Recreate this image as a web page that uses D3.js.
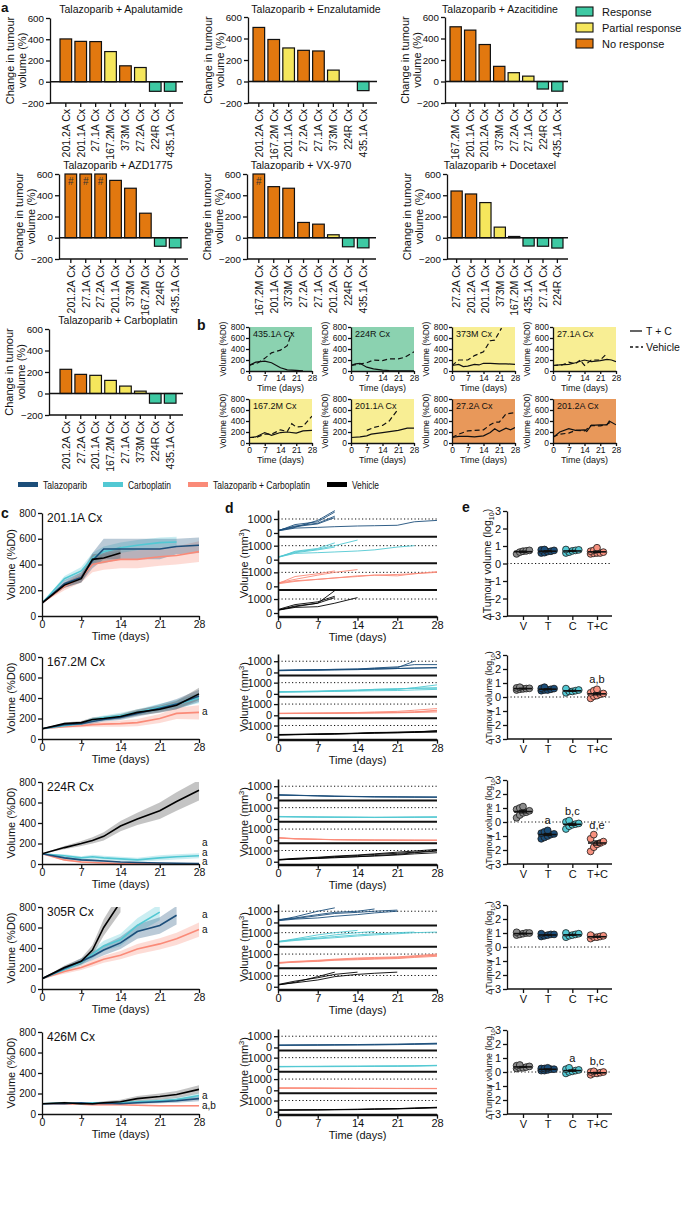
<!DOCTYPE html>
<html><head><meta charset="utf-8">
<script src="https://cdn.jsdelivr.net/npm/d3@7"></script>
<style>
body{margin:0;background:#fff;}
svg{font-family:Arial,"Liberation Sans",Helvetica,sans-serif;}
</style></head><body>
<svg id="fig" width="685" height="1212"></svg>
<script>
// ================= DATA =================
// ---- panel a ----
const aTitles = ["Talazoparib + Apalutamide","Talazoparib + Enzalutamide","Talazoparib + Azacitidine","Talazoparib + AZD1775","Talazoparib + VX-970","Talazoparib + Docetaxel","Talazoparib + Carboplatin"];
const aModels = [
 ["201.2A Cx","201.1A Cx","27.1A Cx","167.2M Cx","373M Cx","27.2A Cx","224R Cx","435.1A Cx"],
 ["201.2A Cx","167.2M Cx","201.1A Cx","27.2A Cx","27.1A Cx","373M Cx","224R Cx","435.1A Cx"],
 ["167.2M Cx","201.1A Cx","201.2A Cx","373M Cx","27.2A Cx","27.1A Cx","224R Cx","435.1A Cx"],
 ["201.2A Cx","27.1A Cx","27.2A Cx","201.1A Cx","373M Cx","167.2M Cx","224R Cx","435.1A Cx"],
 ["167.2M Cx","201.1A Cx","373M Cx","27.2A Cx","27.1A Cx","201.2A Cx","224R Cx","435.1A Cx"],
 ["27.2A Cx","201.2A Cx","201.1A Cx","373M Cx","167.2M Cx","435.1A Cx","27.1A Cx","224R Cx"],
 ["201.2A Cx","27.2A Cx","201.1A Cx","167.2M Cx","27.1A Cx","373M Cx","224R Cx","435.1A Cx"]
];
const aValues = [
 [403,380,378,284,150,134,-90,-90],
 [503,391,312,290,284,106,0,-85],
 [509,478,344,141,82,50,-70,-90],
 [600,600,600,540,466,231,-80,-95],
 [600,481,466,144,128,28,-85,-95],
 [440,412,331,100,12,-78,-80,-97],
 [225,178,169,122,69,22,-90,-90]
];
const aResponse = [
 ["N","N","N","P","N","P","R","R"],
 ["N","N","P","N","N","P","R","R"],
 ["N","N","N","N","P","P","R","R"],
 ["N","N","N","N","N","N","R","R"],
 ["N","N","N","N","N","P","R","R"],
 ["N","N","P","P","P","R","R","R"],
 ["N","N","P","P","P","P","R","R"]
];
const aExceeds = [
 [0,0,0,0,0,0,0,0],[0,0,0,0,0,0,0,0],[0,0,0,0,0,0,0,0],
 [1,1,1,0,0,0,0,0],[1,0,0,0,0,0,0,0],[0,0,0,0,0,0,0,0],[0,0,0,0,0,0,0,0]
];
const aTicks = [-200,0,200,400,600];
const respKeys = ["R","P","N"];
const respLabels = ["Response","Partial response","No response"];

// ---- panel b ----
const bModels = ["435.1A Cx","224R Cx","373M Cx","27.1A Cx","167.2M Cx","201.1A Cx","27.2A Cx","201.2A Cx"];
const bResp = ["R","R","P","P","P","P","N","N"];
const bTC = [
 [[0,100],[3,160],[7,180],[10,150],[14,60],[17,20],[21,10],[24,5]],
 [[0,100],[2,130],[4,140],[7,70],[10,40],[14,15],[17,8],[21,5],[28,2]],
 [[0,100],[3,120],[5,80],[7,90],[10,120],[12,110],[14,140],[17,140],[21,130],[24,130],[28,120]],
 [[0,100],[3,110],[7,120],[10,150],[14,200],[17,170],[21,190],[24,210],[26,200],[28,170]],
 [[0,100],[3,110],[7,190],[10,140],[14,190],[17,200],[21,180],[24,220],[28,230]],
 [[0,100],[4,110],[7,130],[9,160],[14,190],[21,230],[25,270],[28,270]],
 [[0,100],[3,120],[7,120],[10,110],[14,130],[17,190],[19,260],[21,210],[24,270],[26,240],[28,280]],
 [[0,100],[3,200],[7,260],[10,230],[14,240],[15,210],[17,320],[21,330],[24,330],[25,400],[28,330]]
];
const bVeh = [
 [[0,100],[4,150],[7,230],[10,330],[14,380],[17,460],[19,700]],
 [[0,100],[3,120],[7,150],[10,200],[14,190],[17,220],[21,220],[24,250],[28,350]],
 [[0,100],[3,200],[7,200],[10,280],[14,350],[17,550],[19,560],[22,780]],
 [[0,100],[4,110],[7,160],[10,130],[12,200],[14,100],[17,200],[21,200],[24,320]],
 [[0,100],[3,100],[7,160],[10,160],[14,240],[17,210],[19,350],[21,290],[24,300],[28,490]],
 [[7,230],[10,280],[14,320],[17,400],[21,620]],
 [[0,100],[3,160],[7,220],[10,230],[14,240],[17,330],[19,380],[21,380],[24,530],[28,550]],
 [[0,110],[3,160],[7,180],[10,230],[14,220],[17,320],[21,310],[24,340],[26,390]]
];
const bYTicks = [0,200,400,600,800];
const dayTicks = [0,7,14,21,28];

// ---- panels c, d, e ----
const cdeModels = ["201.1A Cx","167.2M Cx","224R Cx","305R Cx","426M Cx"];
const groupKeys = ["T","C","TC","V"];
const groupNames = ["Talazoparib","Carboplatin","Talazoparib + Carboplatin","Vehicle"];
const cDays = [0,4,7,9,11,14,17,21,24,28];
const cMeanV = [
 [100,240,290,440,450,490,null,null,null,null],
 [100,150,160,190,200,220,260,290,330,440],
 [100,160,200,230,270,370,440,520,610,720],
 [100,210,270,380,600,850,null,null,null,null],
 [100,110,100,100,110,120,150,170,190,240]];
const cSemV = [
 [0,20,30,40,40,50,null,null,null,null],
 [0,10,15,20,20,25,30,35,40,60],
 [0,15,25,30,40,50,60,80,90,100],
 [0,20,30,50,80,100,null,null,null,null],
 [0,10,10,10,15,20,25,30,35,40]];
const cMeanT = [
 [100,250,300,430,520,520,520,520,540,550],
 [100,140,150,170,190,210,250,300,340,420],
 [100,60,40,35,30,20,15,10,8,5],
 [100,200,270,320,380,450,560,620,720,null],
 [100,100,110,100,105,100,110,120,130,150]];
const cSemT = [
 [0,30,40,60,80,80,80,80,60,60],
 [0,10,15,20,20,25,30,40,50,60],
 [0,10,10,8,8,5,5,4,3,3],
 [0,20,30,40,50,60,70,80,90,null],
 [0,8,8,8,10,10,12,15,20,25]];
const cMeanC = [
 [100,290,350,450,500,530,550,570,575,null],
 [100,130,150,190,210,230,260,310,340,400],
 [100,80,60,70,60,50,40,60,70,80],
 [100,190,260,340,420,480,620,750,null,null],
 [100,110,100,110,110,110,120,130,140,180]];
const cSemC = [
 [0,20,30,40,40,40,40,40,40,null],
 [0,10,15,20,20,25,30,35,40,50],
 [0,15,15,20,20,20,20,25,25,25],
 [0,20,30,40,50,60,70,80,null,null],
 [0,8,8,8,10,10,12,15,20,25]];
const cMeanTC = [
 [100,230,300,400,420,440,440,460,470,500],
 [100,120,130,140,145,150,160,200,250,260],
 [100,40,20,15,10,5,3,2,1,0],
 [100,170,210,250,290,330,390,440,490,580],
 [100,100,95,90,90,90,85,80,80,80]];
const cSemTC = [
 [0,30,40,60,60,70,70,70,70,80],
 [0,10,15,20,25,30,35,45,55,70],
 [0,10,8,5,4,3,2,1,1,0],
 [0,20,25,30,35,40,50,55,60,70],
 [0,8,8,8,8,8,8,8,8,8]];
const cYTicks = [0,200,400,600,800];
const cAnnotGroups = [[],["TC"],["C","T","TC"],["T","TC"],["T","TC"]];
const cAnnotText = [[],["a"],["a","a","a"],["a","a"],["a","a,b"]];

const dDays = [0,3,7,10,14,17,21,24,28];
const dLinesT = [
 [[150,600,800,1500],[180,500,700,1200],[200,450,650,1100],[160,400,900,1600],[150,350,400,450,500,520,550,800,900]],
 [[200,220,250,280,300,400,500,700,700],[150,180,200,220,250,300,350,400,400],[170,200,220,250,280,300,350,380,450],[180,210,240,270,300,350,420,1000]],
 [[250,200,150,100,80,60,50,40,30],[200,180,140,100,70,50,40,30,20],[220,190,150,120,90,70,50,40,30]],
 [[200,500,1000,1300],[250,400,700,900,1000,1200],[200,350,600,800,900,1000,1100],[150,300,400,550,700,850,1000]],
 [[200,210,220,230,240,250,270,300,350],[180,190,200,210,220,230,250,280,300],[220,230,240,250,260,280,300,330,380]]];
const dLinesC = [
 [[150,600,800,1200],[200,550,750,1000,1400],[180,500,700,900],[170,450,500,550,620,700,900,1000]],
 [[150,170,200,250,300,400,450,500,550],[180,200,230,260,300,350,400,550,800],[200,220,250,300,350,400,450,500,500],[160,180,200,220,250,280,300,350,400]],
 [[200,180,160,150,140,130,140,150,160],[180,170,150,140,130,120,130,140,150],[220,200,180,170,160,150,160,170,180]],
 [[200,450,800,1000,1200],[180,400,600,800,1000,1100],[220,350,500,650,800,900,1000,1050],[150,300,450,550,700,800,900,1000,1050]],
 [[200,210,220,230,230,240,250,260,300],[180,190,195,200,210,220,230,250,280],[220,225,230,240,250,260,270,280,320]]];
const dLinesTC = [
 [[200,700,900,1100],[250,500,800,1000,1200],[220,400,500,600,700,800,750,900,1000],[180,350,500,600,750,800,850,900,1050]],
 [[150,160,170,180,200,220,250,300,400],[180,190,200,210,250,300,350,450,600],[160,170,180,190,200,210,220,250,300],[170,180,190,200,220,240,260,300,450]],
 [[250,150,100,60,40,30,20,10,10],[200,120,80,50,30,20,10,10,5],[220,140,90,50,30,20,15,10,5]],
 [[200,300,400,500,600,650,700,800,900],[250,350,450,550,650,700,750,850,1000],[180,280,350,450,500,550,600,700,800],[220,300,380,480,550,600,650,750,900]],
 [[200,200,190,180,170,170,160,160,150],[180,180,175,170,165,160,155,150,150],[220,215,210,200,190,185,180,175,170]]];
const dLinesV = [
 [[200,500,700,1600],[250,600,800,1200],[220,450,700,1100],[200,400,450,700,1100]],
 [[150,180,220,250,300,350,400,450,500],[200,220,250,280,320,380,400,420,450],[180,200,230,260,300,330,360,400,550],[160,190,210,240,280,320,350,380,420]],
 [[150,250,350,450,550,650,750,850,1000],[200,300,400,500,600,700,850,950,1100],[180,250,300,400,450,550,650,800,950],[170,220,300,350,450,500,600,700,800]],
 [[150,400,900,1300],[200,500,800,1100,1300],[180,350,600,900,1100,1200,1300]],
 [[150,160,170,190,210,240,270,320,380],[130,140,150,170,190,220,250,290,340],[170,180,190,200,220,250,280,330,400]]];
const dYTicks = [0,1000];

const eCats = ["V","T","C","T+C"];
const ePtsV = [[0.55,0.7,0.75,0.72,0.65],[0.5,0.55,0.65,0.7,0.6,0.62,0.58],[0.3,0.5,0.7,0.9,1.1,0.8,0.65,1.0],[0.9,1.0,1.05,0.95,0.85,1.0],[0.25,0.3,0.4,0.45,0.35,0.5,0.3]];
const ePtsT = [[0.6,0.7,0.78,0.8,0.75,0.62,0.68],[0.45,0.5,0.6,0.7,0.55,0.5,0.62],[-1.2,-1.0,-0.8,-0.6,-0.9,-0.7,-1.1,-0.85],[0.8,0.85,0.9,0.95,0.75,0.9],[0.1,0.15,0.2,0.25,0.3,0.2,0.1,0.25]];
const ePtsC = [[0.65,0.75,0.8,0.78,0.72,0.6],[0.3,0.4,0.5,0.6,0.45,0.4],[-0.5,-0.3,-0.1,0.1,-0.2,0.0,-0.15],[0.7,0.8,0.9,0.95,0.85,1.0],[-0.1,0.0,0.1,0.2,0.3,0.15,0.05]];
const ePtsTC = [[0.55,0.6,0.9,0.7,0.6,0.65,0.75,0.58],[-0.1,0.05,0.2,0.3,0.45,0.55,0.1,0.25],[-2.1,-1.8,-1.5,-1.2,-0.9,-1.6,-1.4],[0.6,0.7,0.8,0.85,0.75,0.7],[-0.2,-0.1,-0.05,0.0,0.05,-0.1,0.0]];
const eAnnot = [["","","",""],["","","","a,b"],["","a","b,c","d,e"],["","","",""],["","","a","b,c"]];
const eYTicks = [-3,-2,-1,0,1,2,3];

// ================= DRAWING =================
const svg = d3.select("#fig");
const respColor = {R:"#3ec9a3",P:"#f5e65c",N:"#e2780f"};
const bgColor = {R:"#8bd2b0",P:"#f8ee94",N:"#e8985a"};
const gColor = {T:"#1c4e7a",C:"#52c8d3",TC:"#fa8a78",V:"#000000"};
const eFill = {V:"#8c8c8c",T:"#1c4e7a",C:"#52c8d3",TC:"#f7917f"};
const INK = "#111";

function styleAxis(sel, fs){
  sel.attr("font-family", null).attr("font-size", fs);
  sel.selectAll(".domain").attr("stroke",INK).attr("stroke-width",1.3);
  sel.selectAll(".tick line").attr("stroke",INK).attr("stroke-width",1.3);
  sel.selectAll(".tick text").attr("fill",INK);
}
function txt(x,y,s,fs,extra){
  const t = svg.append("text").attr("x",x).attr("y",y).attr("font-size",fs).attr("fill",INK).text(s);
  if(extra) for(const k in extra) t.attr(k,extra[k]);
  return t;
}
let clipId = 0;
function clip(x,y,w,h){
  const id = "cl"+(clipId++);
  svg.append("clipPath").attr("id",id).append("rect").attr("x",x).attr("y",y).attr("width",w).attr("height",h);
  return "url(#"+id+")";
}

// panel labels
txt(1,12,"a",13.5,{"font-weight":"bold"});
txt(197,330,"b",14,{"font-weight":"bold"});
txt(1,518,"c",14,{"font-weight":"bold"});
txt(225,513,"d",14,{"font-weight":"bold"});
txt(462,512,"e",14,{"font-weight":"bold"});

// ---- panel a ----
const aLayout = [
 {ax:50, b0:60, b1:176, ae:183, top:18, bot:103, tx:121, ty:13},
 {ax:248,b0:253,b1:369, ae:377, top:17, bot:103, tx:316, ty:13},
 {ax:445,b0:450,b1:563, ae:568, top:17, bot:103, tx:500, ty:13},
 {ax:59, b0:65, b1:181, ae:188, top:174,bot:259, tx:118, ty:169},
 {ax:247,b0:253,b1:369, ae:376, top:174,bot:259, tx:301, ty:169},
 {ax:447,b0:451,b1:563, ae:568, top:174,bot:259, tx:500, ty:169},
 {ax:49, b0:60, b1:176, ae:183, top:329,bot:415, tx:118, ty:324}
];
aTitles.forEach((title,i)=>{
  const L = aLayout[i];
  const y = d3.scaleLinear().domain([-200,600]).range([L.bot,L.top]);
  const x = d3.scaleBand().domain(d3.range(aModels[i].length)).range([L.b0,L.b1]).paddingInner(0.22).paddingOuter(0);
  const g = svg.append("g");
  g.selectAll("rect.bar").data(aValues[i]).join("rect").attr("class","bar")
    .attr("x",(d,j)=>x(j)).attr("width",x.bandwidth())
    .attr("y",d=>y(Math.max(0,Math.min(600,d))))
    .attr("height",d=>Math.abs(y(Math.min(600,d))-y(0)))
    .attr("fill",(d,j)=>respColor[aResponse[i][j]])
    .attr("stroke",INK).attr("stroke-width",1.2)
    .attr("display",d=>d===0?"none":null);
  g.selectAll("text.hash").data(d3.range(aValues[i].length).filter(j=>aExceeds[i][j])).join("text")
    .attr("class","hash").attr("x",j=>x(j)+x.bandwidth()/2).attr("y",y(600)+11)
    .attr("text-anchor","middle").attr("font-size",10).attr("fill","#333").text("#");
  const ya = g.append("g").attr("transform",`translate(${L.ax},0)`)
    .call(d3.axisLeft(y).tickValues(aTicks).tickSize(4).tickPadding(2).tickSizeOuter(0));
  styleAxis(ya,9.8);
  g.append("line").attr("x1",L.ax).attr("x2",L.ae).attr("y1",y(0)).attr("y2",y(0)).attr("stroke",INK).attr("stroke-width",1.5);
  g.append("line").attr("x1",L.ax).attr("x2",L.ae).attr("y1",y(-200)).attr("y2",y(-200)).attr("stroke",INK).attr("stroke-width",1.4);
  aModels[i].forEach((m,j)=>{
    const cx = x(j)+x.bandwidth()/2;
    g.append("line").attr("x1",cx).attr("x2",cx).attr("y1",y(-200)).attr("y2",y(-200)+4).attr("stroke",INK).attr("stroke-width",1.3);
    g.append("text").attr("transform",`translate(${cx},${y(-200)+6}) rotate(-90)`)
      .attr("text-anchor","end").attr("dy","0.36em").attr("font-size",10.5).attr("fill",INK).text(m);
  });
  g.append("text").attr("x",L.tx).attr("y",L.ty).attr("text-anchor","middle").attr("font-size",10.5).attr("fill",INK).text(title);
  const yl = g.append("text").attr("transform",`translate(${L.ax-36},${(L.top+L.bot)/2}) rotate(-90)`)
    .attr("text-anchor","middle").attr("font-size",11).attr("fill",INK);
  yl.append("tspan").attr("x",0).attr("y",0).text("Change in tumour");
  yl.append("tspan").attr("x",0).attr("y",11.5).text("volume (%)");
});
// legend a
respKeys.forEach((k,i)=>{
  svg.append("rect").attr("x",576).attr("y",7+16*i).attr("width",17).attr("height",9)
    .attr("fill",respColor[k]).attr("stroke",INK).attr("stroke-width",1.1);
  txt(602,15.5+16*i,respLabels[i],11);
});

// ---- panel b ----
const bX = [249,351,452,553], bY = [327,399], bW = 63, bH = 44;
bModels.forEach((m,i)=>{
  const x0 = bX[i%4], y0 = bY[Math.floor(i/4)];
  const x = d3.scaleLinear().domain([0,28]).range([x0,x0+bW]);
  const y = d3.scaleLinear().domain([0,800]).range([y0+bH,y0]);
  svg.append("rect").attr("x",x0).attr("y",y0).attr("width",bW).attr("height",bH).attr("fill",bgColor[bResp[i]]);
  const cp = clip(x0,y0,bW,bH);
  const line = d3.line().x(d=>x(d[0])).y(d=>y(d[1]));
  svg.append("path").attr("d",line(bVeh[i])).attr("fill","none").attr("stroke",INK).attr("stroke-width",1.2)
    .attr("stroke-dasharray","5,3").attr("clip-path",cp);
  svg.append("path").attr("d",line(bTC[i])).attr("fill","none").attr("stroke",INK).attr("stroke-width",1.2).attr("clip-path",cp);
  const ya = svg.append("g").attr("transform",`translate(${x0},0)`)
    .call(d3.axisLeft(y).tickValues(bYTicks).tickSize(3).tickPadding(1).tickSizeOuter(0));
  styleAxis(ya,8.5);
  const xa = svg.append("g").attr("transform",`translate(0,${y0+bH})`)
    .call(d3.axisBottom(x).tickValues(dayTicks).tickSize(3).tickPadding(1).tickSizeOuter(0));
  styleAxis(xa,8.5);
  txt(x0+4,y0+10,m,9);
  txt(x0+bW/2,y0+bH+20,"Time (days)",9,{"text-anchor":"middle"});
  svg.append("text").attr("transform",`translate(${x0-23},${y0+bH/2}) rotate(-90)`)
    .attr("text-anchor","middle").attr("font-size",8.5).attr("fill",INK).text("Volume (%D0)");
});
// legend b
svg.append("line").attr("x1",630).attr("x2",642).attr("y1",331).attr("y2",331).attr("stroke",INK).attr("stroke-width",1.3);
txt(646,335,"T + C",10.5);
svg.append("line").attr("x1",630).attr("x2",643).attr("y1",347).attr("y2",347).attr("stroke",INK).attr("stroke-width",1.3).attr("stroke-dasharray","3,2.5");
txt(646,351,"Vehicle",10.5);

// ---- legend c/d/e ----
const legX = [18,103,188,327];
const legW = [44,43,97,27];
groupKeys.forEach((k,i)=>{
  svg.append("rect").attr("x",legX[i]).attr("y",482).attr("width",20).attr("height",5).attr("fill",gColor[k]);
  txt(legX[i]+25,489,groupNames[i],10.5,{"textLength":legW[i],"lengthAdjust":"spacingAndGlyphs"});
});

// ---- panels c, d, e ----
const rowTop = [513,657,782,907,1032];
const rowBot = [616,739,864,989,1114];
const cMean = {V:cMeanV,T:cMeanT,C:cMeanC,TC:cMeanTC};
const cSem = {V:cSemV,T:cSemT,C:cSemC,TC:cSemTC};
const dLines = {T:dLinesT,C:dLinesC,TC:dLinesTC,V:dLinesV};
const ePts = {V:ePtsV,T:ePtsT,C:ePtsC,TC:ePtsTC};
const drawOrder = ["TC","C","T","V"];

cdeModels.forEach((model,r)=>{
  const top = rowTop[r], bot = rowBot[r];
  // ---- c ----
  const cx = d3.scaleLinear().domain([0,28]).range([42,199]);
  const cy = d3.scaleLinear().domain([0,800]).range([bot,top]);
  const cp = clip(42,top,160,bot-top);
  drawOrder.forEach(k=>{
    const pts = cDays.map((d,j)=>({d,m:cMean[k][r][j],s:cSem[k][r][j]}));
    const area = d3.area().defined(p=>p.m!=null).x(p=>cx(p.d)).y0(p=>cy(p.m-p.s)).y1(p=>cy(p.m+p.s));
    svg.append("path").attr("d",area(pts)).attr("fill",k==="V"?"#555":gColor[k]).attr("opacity",k==="V"?0.35:0.3).attr("clip-path",cp);
  });
  drawOrder.forEach(k=>{
    const pts = cDays.map((d,j)=>({d,m:cMean[k][r][j]}));
    const line = d3.line().defined(p=>p.m!=null).x(p=>cx(p.d)).y(p=>cy(p.m));
    svg.append("path").attr("d",line(pts)).attr("fill","none").attr("stroke",gColor[k]).attr("stroke-width",1.6).attr("clip-path",cp);
  });
  const cya = svg.append("g").attr("transform","translate(42,0)").call(d3.axisLeft(cy).tickValues(cYTicks).tickSize(4).tickPadding(2).tickSizeOuter(0));
  styleAxis(cya,10);
  const cxa = svg.append("g").attr("transform",`translate(0,${bot})`).call(d3.axisBottom(cx).tickValues(dayTicks).tickSize(4).tickPadding(1).tickSizeOuter(0));
  styleAxis(cxa,10.5);
  txt(47,top+9,model,12);
  txt(120.5,bot+24,"Time (days)",11,{"text-anchor":"middle"});
  svg.append("text").attr("transform",`translate(15,${(top+bot)/2}) rotate(-90)`).attr("text-anchor","middle").attr("font-size",11).attr("fill",INK).text("Volume (%D0)");
  // annotations (stacked upwards from the lowest)
  let prevY = bot - 2;
  const ann = cAnnotGroups[r].map((k,j)=>{
    const vals = cMean[k][r].filter(v=>v!=null);
    return {t:cAnnotText[r][j], y:cy(Math.min(800,vals[vals.length-1]))};
  }).sort((a,b)=>b.y-a.y);
  ann.forEach(a=>{ const yy = Math.min(a.y, prevY); prevY = yy - 9.5; txt(202,yy+3,a.t,10); });

  // ---- d ----
  const dTop = top-3, dBot = bot+0.7, h = (dBot-dTop)/4;
  const dx = d3.scaleLinear().domain([0,28]).range([278,437]);
  groupKeys.forEach((k,gi)=>{
    const st = dTop+gi*h, sb = st+h;
    const dy = d3.scaleLinear().domain([-264,1643]).range([sb,st]);
    const dcp = clip(278,st,160,h);
    svg.append("line").attr("x1",278).attr("x2",437).attr("y1",dy(1000)).attr("y2",dy(1000))
      .attr("stroke",INK).attr("stroke-width",1).attr("stroke-dasharray","1.2,2.3");
    const line = d3.line().defined(v=>v!=null).x((v,j)=>dx(dDays[j])).y(v=>dy(v));
    dLines[k][r].forEach(ln=>{
      svg.append("path").attr("d",line(ln)).attr("fill","none").attr("stroke",gColor[k]).attr("stroke-width",0.9).attr("clip-path",dcp);
    });
    const dya = svg.append("g").attr("transform","translate(278,0)").call(d3.axisLeft(dy).tickValues(dYTicks).tickFormat(d3.format("d")).tickSize(4).tickPadding(2).tickSizeOuter(0));
    styleAxis(dya,11);
    dya.select(".domain").attr("stroke-width",1.6);
    svg.append("line").attr("x1",278).attr("x2",437).attr("y1",sb).attr("y2",sb).attr("stroke",INK).attr("stroke-width",2);
    if(gi===3){
      const dxa = svg.append("g").attr("transform",`translate(0,${sb})`).call(d3.axisBottom(dx).tickValues(dayTicks).tickSize(4).tickPadding(1).tickSizeOuter(0));
      styleAxis(dxa,11);
      dxa.select(".domain").attr("stroke-width",2);
    }
  });
  txt(357.5,bot+25,"Time (days)",11,{"text-anchor":"middle"});
  const dyl = svg.append("text").attr("transform",`translate(248,${(dTop+dBot)/2}) rotate(-90)`).attr("text-anchor","middle").attr("font-size",11).attr("fill",INK);
  dyl.append("tspan").text("Volume (mm");
  dyl.append("tspan").attr("font-size",7.5).attr("dy",-4).text("3");
  dyl.append("tspan").attr("dy",4).text(")");

  // ---- e ----
  const ex = d3.scalePoint().domain(eCats).range([523,597]);
  const ey = d3.scaleLinear().domain([-3,3]).range([bot,top-2]);
  svg.append("line").attr("x1",507).attr("x2",612).attr("y1",ey(0)).attr("y2",ey(0))
    .attr("stroke",INK).attr("stroke-width",1).attr("stroke-dasharray","1.2,2.3");
  ["V","T","C","TC"].forEach((k,ci)=>{
    const vals = ePts[k][r];
    const xc = ex(eCats[ci]);
    const sorted = vals.map((v,j)=>({v,j})).sort((a,b)=>a.v-b.v);
    sorted.forEach((p,si)=>{
      const off = ((si%5)-2)*3.2;
      svg.append("circle").attr("cx",xc+off).attr("cy",ey(p.v)).attr("r",3.4)
        .attr("fill",eFill[k]).attr("stroke","#1a1a1a").attr("stroke-width",0.8);
    });
    const m = d3.mean(vals), se = d3.deviation(vals)/Math.sqrt(vals.length);
    svg.append("line").attr("x1",xc-9).attr("x2",xc+9).attr("y1",ey(m)).attr("y2",ey(m)).attr("stroke",INK).attr("stroke-width",1.6);
    svg.append("line").attr("x1",xc).attr("x2",xc).attr("y1",ey(m-se)).attr("y2",ey(m+se)).attr("stroke",INK).attr("stroke-width",1.2);
    [m-se,m+se].forEach(v=>svg.append("line").attr("x1",xc-4).attr("x2",xc+4).attr("y1",ey(v)).attr("y2",ey(v)).attr("stroke",INK).attr("stroke-width",1.2));
    if(eAnnot[r][ci]) txt(xc,ey(d3.max(vals))-6,eAnnot[r][ci],11,{"text-anchor":"middle"});
  });
  const eya = svg.append("g").attr("transform","translate(507,0)").call(d3.axisLeft(ey).tickValues(eYTicks).tickFormat(d3.format("d")).tickSize(4).tickPadding(2).tickSizeOuter(0));
  styleAxis(eya,11);
  const exa = svg.append("g").attr("transform",`translate(0,${bot})`).call(d3.axisBottom(ex).tickSize(4).tickPadding(2).tickSizeOuter(0));
  styleAxis(exa,11);
  exa.select(".domain").attr("d",`M507,0H612`);
  const efs = r===0 ? 10.5 : 8.8;
  const eyl = svg.append("text").attr("transform",`translate(${r===0?491:492},${(top+bot)/2}) rotate(-90)`).attr("text-anchor","middle").attr("font-size",efs).attr("fill",INK);
  eyl.append("tspan").text("\u0394Tumour volume (log");
  eyl.append("tspan").attr("font-size",efs*0.68).attr("dy",2.5).text("10");
  eyl.append("tspan").attr("dy",-2.5).text(")");
});
</script>
</body></html>
